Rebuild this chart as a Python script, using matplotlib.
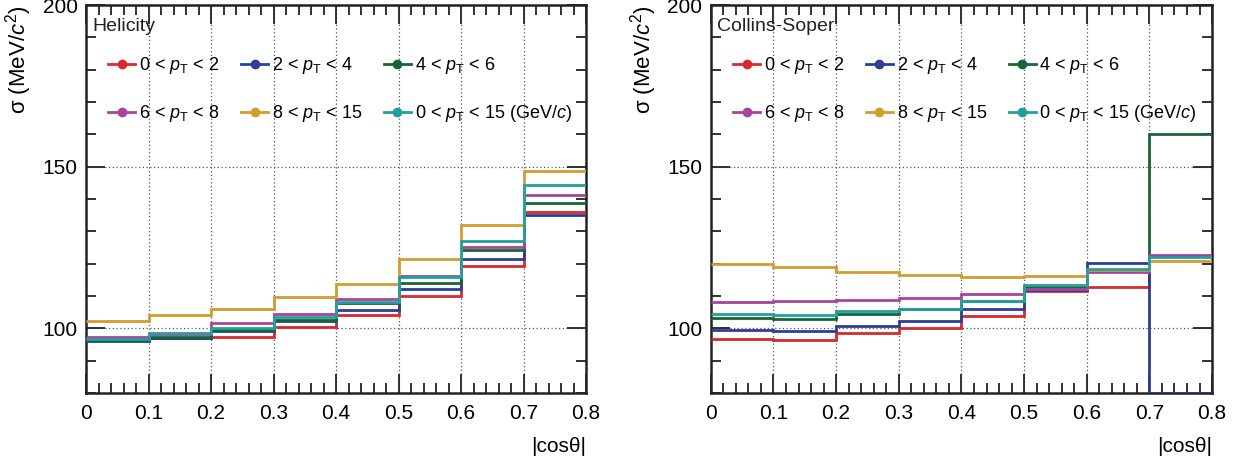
import matplotlib
matplotlib.use('Agg')
import matplotlib.pyplot as plt
import numpy as np
from matplotlib.ticker import MultipleLocator, FormatStrFormatter

plt.rcParams['font.family'] = ['Liberation Sans', 'DejaVu Sans']
plt.rcParams['mathtext.fontset'] = 'custom'
plt.rcParams['mathtext.it'] = 'Liberation Sans:italic'
plt.rcParams['mathtext.rm'] = 'Liberation Sans'

edges = [0, 0.1, 0.2, 0.3, 0.4, 0.5, 0.6, 0.7, 0.8]
labels = [r'0 < $p_{\rm T}$ < 2', r'2 < $p_{\rm T}$ < 4', r'4 < $p_{\rm T}$ < 6',
          r'6 < $p_{\rm T}$ < 8', r'8 < $p_{\rm T}$ < 15', r'0 < $p_{\rm T}$ < 15 (GeV/$c$)']
colors = ['#d62a2f', '#2e3d97', '#176535', '#a8449d', '#d29c2e', '#23a09c']

# Helicity frame
hx_pt0_2 = [96.5, 97.1, 97.4, 100.4, 104.2, 110.0, 119.4, 136.1]
hx_pt2_4 = [95.9, 96.9, 99.1, 102.1, 105.7, 112.1, 121.4, 135.1]
hx_pt4_6 = [96.4, 97.4, 99.5, 102.6, 107.7, 114.1, 124.1, 138.9]
hx_pt6_8 = [97.2, 98.2, 101.6, 104.4, 109.1, 116.2, 125.2, 141.1]
hx_pt8_15 = [102.1, 104.2, 106.1, 109.6, 113.7, 121.4, 132.1, 148.6]
hx_pt0_15 = [96.8, 98.5, 100.0, 103.6, 108.2, 116.0, 126.9, 144.3]

# Collins-Soper frame
cs_pt0_2 = [96.8, 96.5, 98.6, 100.1, 103.8, 111.4, 112.8, 122.4]
cs_pt2_4 = [99.4, 99.2, 100.7, 102.3, 105.8, 111.9, 120.2, 0.0]
cs_pt4_6 = [103.2, 102.8, 104.5, 105.9, 108.4, 112.9, 117.8, 160.1]
cs_pt6_8 = [108.1, 108.3, 108.7, 109.2, 110.5, 112.2, 117.5, 122.7]
cs_pt8_15 = [120.0, 118.8, 117.5, 116.4, 116.0, 116.1, 118.0, 120.9]
cs_pt0_15 = [104.5, 104.0, 105.3, 106.1, 108.5, 113.3, 118.4, 122.1]

panels = [
    ('Helicity', [hx_pt0_2, hx_pt2_4, hx_pt4_6, hx_pt6_8, hx_pt8_15, hx_pt0_15]),
    ('Collins-Soper', [cs_pt0_2, cs_pt2_4, cs_pt4_6, cs_pt6_8, cs_pt8_15, cs_pt0_15]),
]

ymin, ymax = 80, 200

fig = plt.figure(figsize=(12.47, 4.66), dpi=100)
boxes = [[0.069, 0.157, 0.401, 0.832], [0.570, 0.157, 0.402, 0.832]]

for (frame, series), box in zip(panels, boxes):
    ax = fig.add_axes(box)
    handles = []
    for vals, color, lab in zip(series, colors, labels):
        # bins below the axis range are drawn on the lower edge, as ROOT does
        v = np.clip(vals, ymin, ymax)
        ax.stairs(v, edges, baseline=None, color=color, lw=2.0, zorder=3)
        h, = ax.plot([], [], color=color, lw=2.0, marker='o', ms=6, label=lab)
        handles.append(h)

    ax.set_xlim(0, 0.8)
    ax.set_ylim(ymin, ymax)
    ax.set_xticks(edges)
    ax.xaxis.set_major_formatter(FormatStrFormatter('%g'))
    ax.xaxis.set_minor_locator(MultipleLocator(0.02))
    ax.yaxis.set_major_locator(MultipleLocator(50))
    ax.yaxis.set_minor_locator(MultipleLocator(10))
    ax.tick_params(which='both', direction='in', top=True, right=True, labelsize=15,
                   width=1.3, color='#222222')
    ax.tick_params(which='major', length=14, pad=8)
    ax.tick_params(which='minor', length=7)
    ax.tick_params(axis='y', which='major', length=14, pad=6)
    ax.grid(True, which='major', linestyle=(0, (1, 2)), color='#555555', lw=0.9)
    for sp in ax.spines.values():
        sp.set_linewidth(1.8)
        sp.set_color('#222222')

    ax.set_ylabel(r'σ (MeV/$c^{2}$)', fontsize=16, loc='top', labelpad=6)
    ax.set_xlabel(r'|cosθ|', fontsize=15, loc='right', labelpad=10)

    ax.text(0.012, 0.968, frame, transform=ax.transAxes, fontsize=14,
            va='top', ha='left', color='#222222')
    # row-major order as in the original legend
    order = [0, 3, 1, 4, 2, 5]
    ax.legend([handles[i] for i in order], [labels[i] for i in order],
              loc='upper left', bbox_to_anchor=(0.03, 0.89), ncol=3,
              frameon=False, fontsize=13, handlelength=1.5, handletextpad=0.2,
              columnspacing=1.2, labelspacing=1.5, borderaxespad=0.0)

fig.savefig('out.png', dpi=100)
